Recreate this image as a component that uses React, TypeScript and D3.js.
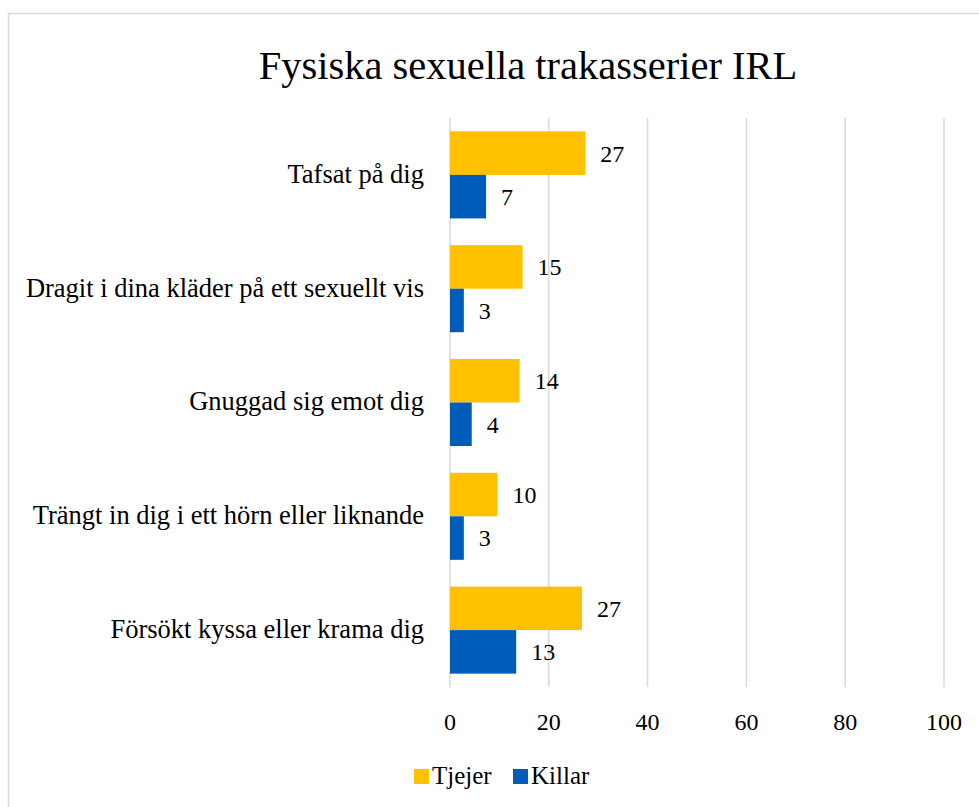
import React, { useRef, useEffect } from "react";
import * as d3 from "d3";

const categories = [
    "Tafsat på dig",
    "Dragit i dina kläder på ett sexuellt vis",
    "Gnuggad sig emot dig",
    "Trängt in dig i ett hörn eller liknande",
    "Försökt kyssa eller krama dig",
];
const seriesNames = ["Tjejer", "Killar"];
const tjejer = [27.4, 14.7, 14.1, 9.6, 26.7];
const killar = [7.3, 2.8, 4.4, 2.8, 13.4];
const xTicks = [0, 20, 40, 60, 80, 100];
const colors = ["#ffc000", "#005cb9"];

const FONT = "'Liberation Serif', serif";

const App: React.FC = () => {
    const ref = useRef<SVGSVGElement>(null);

    useEffect(() => {
        if (!ref.current) return;
        const svg = d3.select(ref.current);
        svg.selectAll("*").remove();

        const left = 450, right = 944, top = 118, bottom = 687;

        // chart frame
        svg.append("rect")
            .attr("x", 8.5).attr("y", 13.5)
            .attr("width", 1000).attr("height", 900)
            .attr("fill", "white")
            .attr("stroke", "#d9d9d9")
            .attr("stroke-width", 1.5);

        svg.append("text")
            .attr("x", 528).attr("y", 79)
            .attr("text-anchor", "middle")
            .style("font-family", FONT)
            .style("font-size", "40.5px")
            .attr("fill", "#000")
            .text("Fysiska sexuella trakasserier IRL");

        const x = d3.scaleLinear().domain([0, 100]).range([left, right]);
        const y0 = d3.scaleBand<string>().domain(categories).range([top, bottom]).paddingInner(0.235).paddingOuter(0.1175);
        const y1 = d3.scaleBand<string>().domain(seriesNames).range([0, y0.bandwidth()]);

        // gridlines
        svg.append("g")
            .selectAll("line")
            .data(xTicks)
            .enter()
            .append("line")
            .attr("x1", d => x(d)).attr("x2", d => x(d))
            .attr("y1", top).attr("y2", bottom)
            .attr("stroke", "#d9d9d9")
            .attr("stroke-width", 1.5);

        // tick labels
        svg.append("g")
            .selectAll("text")
            .data(xTicks)
            .enter()
            .append("text")
            .attr("x", d => x(d))
            .attr("y", 730)
            .attr("text-anchor", "middle")
            .style("font-family", FONT)
            .style("font-size", "24px")
            .text(d => d);

        // category labels
        svg.append("g")
            .selectAll("text")
            .data(categories)
            .enter()
            .append("text")
            .attr("x", 424)
            .attr("y", d => (y0(d) as number) + y0.bandwidth() / 2)
            .attr("dy", "0.3em")
            .attr("text-anchor", "end")
            .style("font-family", FONT)
            .style("font-size", "26.5px")
            .text(d => d);

        const series = [tjejer, killar];
        const fmt = d3.format(".0f");

        series.forEach((vals, si) => {
            const g = svg.append("g");
            g.selectAll("rect")
                .data(vals)
                .enter()
                .append("rect")
                .attr("x", x(0))
                .attr("y", (d, i) => (y0(categories[i]) as number) + (y1(seriesNames[si]) as number))
                .attr("width", d => x(d) - x(0))
                .attr("height", y1.bandwidth())
                .attr("fill", colors[si]);

            g.selectAll("text")
                .data(vals)
                .enter()
                .append("text")
                .attr("x", d => x(d) + 15)
                .attr("y", (d, i) => (y0(categories[i]) as number) + (y1(seriesNames[si]) as number) + y1.bandwidth() / 2)
                .attr("dy", "0.35em")
                .style("font-family", FONT)
                .style("font-size", "24px")
                .text(d => fmt(d));
        });

        // legend
        const legendX = [414, 513];
        const legend = svg.append("g");
        seriesNames.forEach((name, i) => {
            legend.append("rect")
                .attr("x", legendX[i]).attr("y", 769)
                .attr("width", 15).attr("height", 15)
                .attr("fill", colors[i]);
            legend.append("text")
                .attr("x", legendX[i] + 18)
                .attr("y", 784)
                .style("font-family", FONT)
                .style("font-size", "25px")
                .text(name);
        });
    }, []);

    return (
        <svg ref={ref} width={979} height={807}
            style={{ position: "absolute", left: 0, top: 0, background: "white" }} />
    );
};

export default App;
